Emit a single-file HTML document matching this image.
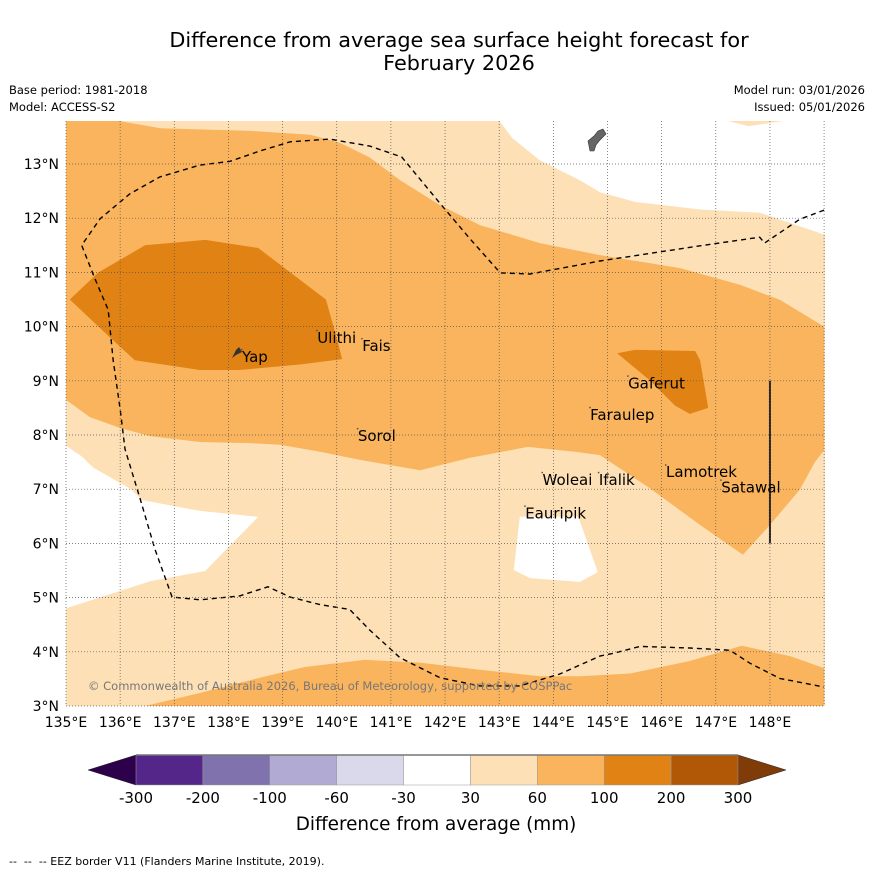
<!DOCTYPE html>
<html><head><meta charset="utf-8"><style>
body{margin:0;background:#fff}
svg{display:block;font-family:"DejaVu Sans","Liberation Sans",sans-serif}
</style></head><body>
<svg id="chart" width="873" height="873" viewBox="0 0 873 873">
<rect width="873" height="873" fill="#fff"/>
<text x="459" y="47" font-size="20.8" text-anchor="middle">Difference from average sea surface height forecast for</text>
<text x="459" y="70" font-size="20.8" text-anchor="middle">February 2026</text>
<text x="9" y="94" font-size="11.5">Base period: 1981-2018</text>
<text x="9" y="111" font-size="11.5">Model: ACCESS-S2</text>
<text x="865" y="94" font-size="11.5" text-anchor="end">Model run: 03/01/2026</text>
<text x="865" y="111" font-size="11.5" text-anchor="end">Issued: 05/01/2026</text>
<defs><clipPath id="mc"><rect x="66" y="121" width="759" height="585"/></clipPath></defs>
<g id="map" clip-path="url(#mc)">
<rect x="66" y="121" width="759" height="585" fill="#fde0b6"/>
</g>
<g id="grid"></g>
<g id="ticks"></g>
<g id="labels"></g>
<text x="88" y="690" font-size="11.5" fill="#777">© Commonwealth of Australia 2026, Bureau of Meteorology, supported by COSPPac</text>
<g id="cbar"></g>
<text x="436" y="830" font-size="18.4" text-anchor="middle">Difference from average (mm)</text>
<text x="9" y="865" font-size="11">-- &#160;-- &#160;-- EEZ border V11 (Flanders Marine Institute, 2019).</text>
</svg>
<script>
const lonTicks=[135,136,137,138,139,140,141,142,143,144,145,146,147,148];
const latTicks=[3,4,5,6,7,8,9,10,11,12,13];
const cbLevels=["-300","-200","-100","-60","-30","30","60","100","200","300"];
const cbColors=["#54268a","#7f72ad","#b1aad2","#d9d9eb","#ffffff","#fde0b6","#f9b45d","#e08214","#b15806"];
// contour polygons in [lon,lat]
const whiteNE=[[143.01,13.9],[143.01,13.79],[143.24,13.48],[143.75,13.07],[144.49,12.7],[144.86,12.48],[145.51,12.3],[146.71,12.16],[147.82,12.1],[149.02,11.69],[149.1,11.69],[149.1,13.9],[148.3,13.9],[148.3,13.8],[147.6,13.7],[147.2,13.8],[147.2,13.9]];
const whiteSW=[[135,7.8],[135.3,7.6],[135.5,7.4],[136.2,7],[136.4,6.8],[137.47,6.6],[138.55,6.49],[137.57,5.49],[136.55,5.3],[135,4.8]];
const whiteBlob=[[143.38,6.49],[144.46,6.49],[144.82,5.47],[144.49,5.29],[143.57,5.36],[143.27,5.51]];
const med=[[135,13.9],[136,13.9],[136,13.79],[136.74,13.66],[138.4,13.61],[139.51,13.54],[140.06,13.39],[140.61,13.12],[141.17,12.7],[141.91,12.24],[142.65,11.87],[143.75,11.54],[144.86,11.32],[146.34,11.08],[147.45,10.77],[148.19,10.49],[149,10],[149,7.72],[148.83,7.5],[148.55,6.99],[148,6.34],[147.5,5.79],[146.71,6.34],[145.78,7.02],[144.86,7.63],[144.4,7.69],[143.53,7.78],[142.46,7.58],[141.54,7.35],[140.43,7.54],[139.69,7.69],[138.95,7.82],[138.4,7.85],[137.47,7.87],[136.55,7.98],[136,8.13],[135.44,8.33],[135,8.65]];
const darkW=[[135.07,10.5],[135.6,11],[136.46,11.5],[137.57,11.6],[138.55,11.45],[139.14,11],[139.8,10.5],[139.97,9.9],[140.1,9.4],[139.32,9.3],[138.2,9.2],[137.47,9.2],[136.27,9.38],[135.81,9.8]];
const darkE=[[145.18,9.51],[145.51,9.57],[146.62,9.55],[146.71,9.38],[146.86,8.5],[146.52,8.39],[146.25,8.54],[145.78,9.01]];
const medS=[[136.46,3],[137.47,3.24],[138.58,3.52],[139.41,3.72],[140.52,3.85],[141.54,3.8],[142.64,3.67],[143.75,3.55],[144.49,3.55],[145.42,3.6],[146.52,3.83],[147.48,4.11],[148.37,3.92],[149,3.7],[149,3]];
const eez=[[149,12.15],[148.55,11.98],[147.9,11.54],[147.81,11.65],[146.71,11.49],[144.86,11.21],[143.57,10.97],[143.02,10.99],[142.46,11.62],[141.91,12.27],[141.2,13.13],[140.61,13.33],[139.87,13.46],[139.14,13.41],[138.58,13.24],[138.03,13.05],[137.47,12.98],[136.73,12.76],[136.18,12.45],[135.63,11.99],[135.29,11.5],[135.54,10.87],[135.78,10.31],[135.87,9.39],[136,8.47],[136.09,7.74],[136.37,6.82],[136.64,5.9],[136.96,5.01],[137.47,4.96],[138.2,5.03],[138.73,5.2],[139.14,5.01],[139.69,4.87],[140.24,4.78],[140.61,4.4],[141.17,3.89],[141.91,3.52],[142.64,3.37],[143.38,3.37],[144.12,3.59],[144.86,3.92],[145.14,3.98],[145.6,4.1],[146.52,4.07],[147.26,4.03],[147.63,3.79],[148.18,3.51],[149,3.35]];
const islands=[["Ulithi",139.64,9.83],["Fais",140.47,9.68],["Yap",138.25,9.48],["Sorol",140.39,8.02],["Gaferut",145.38,8.99],["Faraulep",144.68,8.41],["Woleai",143.8,7.21],["Ifalik",144.84,7.21],["Lamotrek",146.08,7.35],["Satawal",147.1,7.07],["Eauripik",143.48,6.59]];
const X=lon=>66+(lon-135)*54.15;
const Y=lat=>706-(lat-3)*54.2;
const NS="http://www.w3.org/2000/svg";
function mk(tag,attrs,parent){const e=document.createElementNS(NS,tag);for(const k in attrs)e.setAttribute(k,attrs[k]);parent.appendChild(e);return e;}
const pts=a=>a.map(p=>X(p[0]).toFixed(1)+","+Y(p[1]).toFixed(1)).join(" ");
const map=document.getElementById("map");
let e;
e=mk("polygon",{points:pts(whiteNE),fill:"#fff"},map);


e=mk("polygon",{points:pts(whiteSW),fill:"#fff"},map);


e=mk("polygon",{points:pts(whiteBlob),fill:"#fff"},map);


e=mk("polygon",{points:pts(med),fill:"#f9b45d"},map);


e=mk("polygon",{points:pts(medS),fill:"#f9b45d"},map);


e=mk("polygon",{points:pts(darkW),fill:"#e08214"},map);


e=mk("polygon",{points:pts(darkE),fill:"#e08214"},map);


e=mk("polygon",{points:"588,141 594,136 598,131 603,129 606,134 600,140 596,145 594,151 590,151",fill:"#666",stroke:"#333","stroke-width":"0.6"},map);


e=mk("polygon",{points:"232,358 236,350 239,347 242,352 236,355",fill:"#333"},map);


const grid=document.getElementById("grid");
lonTicks.concat([149]).forEach(l=>{const g=mk("line",{x1:X(l),x2:X(l),y1:121,y2:706,stroke:"#555","stroke-width":"0.7","stroke-dasharray":"1,2"},grid);

});
latTicks.forEach(l=>{const g=mk("line",{x1:66,x2:825,y1:Y(l),y2:Y(l),stroke:"#555","stroke-width":"0.7","stroke-dasharray":"1,2"},grid);

});
e=mk("polyline",{points:pts(eez),fill:"none",stroke:"#000","stroke-width":"1.4","stroke-dasharray":"5,4"},map);


e=mk("line",{x1:X(148),x2:X(148),y1:Y(9),y2:Y(6),stroke:"#222","stroke-width":"2"},map);


const ticks=document.getElementById("ticks");
lonTicks.forEach(l=>{const t=mk("text",{x:X(l),y:727,"font-size":"14","text-anchor":"middle"},ticks);t.textContent=l+"°E";

});
latTicks.forEach(l=>{const t=mk("text",{x:59,y:Y(l)+5,"font-size":"14","text-anchor":"end"},ticks);t.textContent=l+"°N";

});
const lab=document.getElementById("labels");
islands.forEach(s=>{const x=X(s[1]),y=Y(s[2]);
const d=mk("rect",{x:x-1,y:y-6,width:1.5,height:1.5,fill:"#555"},lab);


const t=mk("text",{x:x,y:y+7,"font-size":"15"},lab);t.textContent=s[0];

});
const cb=document.getElementById("cbar");
const cx0=136,cw=(738-136)/cbColors.length,cy=755,ch=30;
e=mk("polygon",{points:`136,${cy} 88,${cy+ch/2} 136,${cy+ch}`,fill:"#2d004b",stroke:"#222","stroke-width":"0.5"},cb);


e=mk("polygon",{points:`738,${cy} 786,${cy+ch/2} 738,${cy+ch}`,fill:"#7f3b08",stroke:"#222","stroke-width":"0.5"},cb);


cbColors.forEach((c,i)=>{const r=mk("rect",{x:cx0+i*cw,y:cy,width:cw,height:ch,fill:c,stroke:"#999","stroke-width":"0.5"},cb);

});
e=mk("line",{x1:136,x2:738,y1:cy,y2:cy,stroke:"#777","stroke-width":"1.5"},cb);


cbLevels.forEach((l,i)=>{const t=mk("text",{x:cx0+i*cw,y:803,"font-size":"15","text-anchor":"middle"},cb);t.textContent=l;

});
</script>
</body></html>
